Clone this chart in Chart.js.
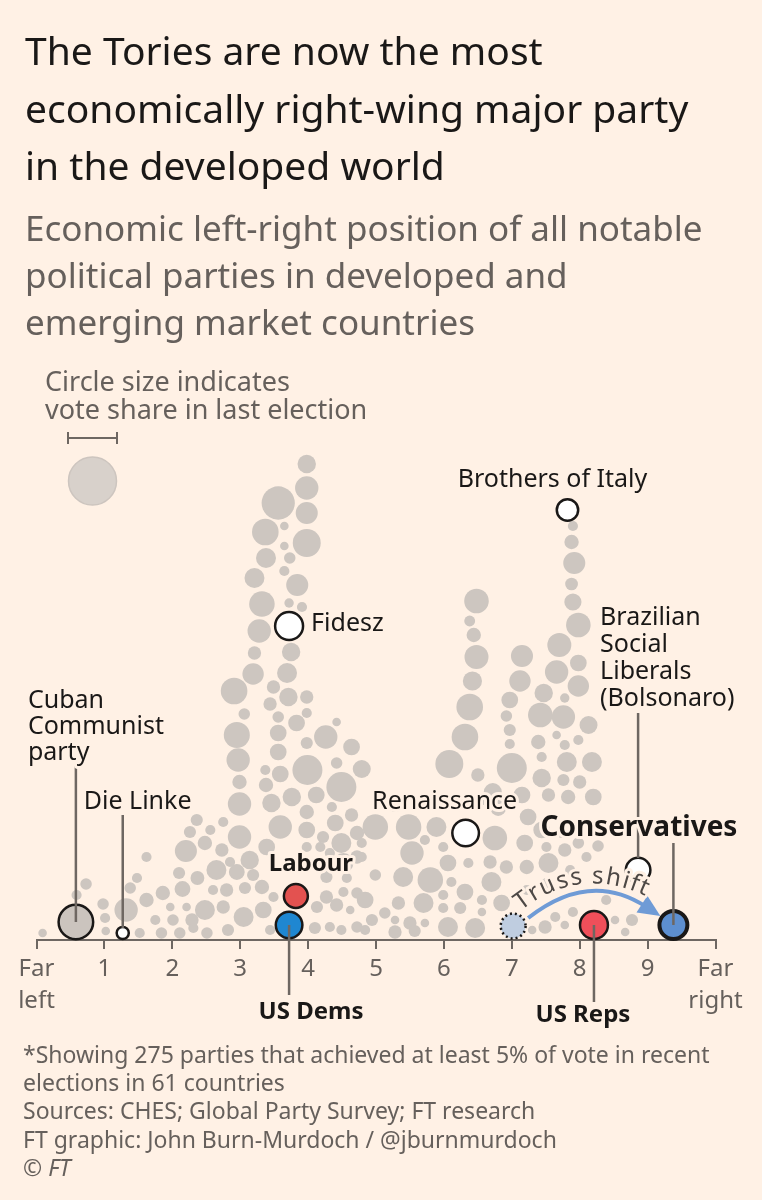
<!DOCTYPE html>
<html>
<head>
<meta charset="utf-8">
<script src="https://cdn.jsdelivr.net/npm/chart.js@4.4.1/dist/chart.umd.min.js"></script>
<style>
  html, body { margin: 0; padding: 0; background: #fff1e5; }
  body { width: 762px; height: 1200px; position: relative; overflow: hidden; font-family: "Noto Sans", sans-serif; }
  #chart { position: absolute; left: 0; top: 0; }
  .txt { position: absolute; left: 25px; white-space: nowrap; z-index: 2; }
  #title { top: 21px; font-size: 39px; line-height: 57.5px; color: #1a1817; }
  #subtitle { top: 204px; font-size: 35px; line-height: 47px; color: #66605c; }
  #sizenote { left: 45px; top: 367px; font-size: 27px; line-height: 28px; color: #66605c; }
  #foot { left: 23px; top: 1040px; font-size: 23px; line-height: 28.2px; color: #66605c; }
</style>
</head>
<body>
<div id="title" class="txt">The Tories are now the most<br>economically right-wing major party<br>in the developed world</div>
<div id="subtitle" class="txt">Economic left-right position of all notable<br>political parties in developed and<br>emerging market countries</div>
<div id="sizenote" class="txt">Circle size indicates<br>vote share in last election</div>
<div id="foot" class="txt">*Showing 275 parties that achieved at least 5% of vote in recent<br>elections in 61 countries<br>Sources: CHES; Global Party Survey; FT research<br>FT graphic: John Burn-Murdoch / @jburnmurdoch<br>© <i>FT</i></div>
<canvas id="chart" width="762" height="1200"></canvas>
<script>
// economic left-right score (0 = far left, 10 = far right)
var score = [
  0.09,0.59,0.73,0.98,1.01,1.02,1.32,1.38,1.48,1.62,
  1.52,1.62,1.75,1.84,1.86,1.97,2.01,2.11,2.15,2.10,
  2.20,2.26,2.36,2.21,2.29,2.37,2.48,2.51,2.56,2.75,
  2.48,2.73,2.85,2.65,2.95,3.19,2.60,2.80,3.07,3.32,
  2.75,3.05,3.34,2.31,2.82,3.44,3.49,3.14,3.39,2.91,
  3.06,2.95,2.97,2.99,2.99,2.99,3.21,3.32,3.28,3.21,
  3.19,3.37,3.38,3.56,3.98,3.98,3.98,3.65,3.98,3.65,
  3.73,3.65,3.84,3.72,3.91,3.75,3.69,3.49,3.71,3.98,
  3.44,3.56,3.83,3.98,3.56,3.98,3.56,3.37,3.59,3.99,
  4.26,4.42,4.64,4.42,4.49,3.38,3.76,3.46,4.12,3.98,
  4.35,4.64,3.59,3.98,4.22,4.40,4.49,4.72,3.98,4.18,
  4.32,4.52,4.72,4.27,4.57,4.27,4.52,4.72,4.13,4.42,
  4.62,4.10,4.32,4.49,4.72,4.79,4.99,5.48,5.89,5.72,
  4.79,5.53,5.99,6.06,6.36,6.68,6.92,4.79,4.99,5.40,
  5.80,6.11,6.31,6.70,4.84,5.33,5.70,5.99,5.99,6.24,
  6.56,6.85,4.94,5.13,5.28,5.50,5.72,4.84,5.28,5.57,
  6.06,6.46,6.56,6.75,5.72,5.94,6.24,6.53,6.80,5.28,
  6.48,6.38,6.44,6.48,6.42,6.38,6.31,6.08,6.50,6.97,
  6.92,6.97,6.97,7.00,7.15,7.12,6.72,7.15,7.47,7.78,
  7.70,7.66,7.98,7.98,7.90,7.88,7.92,7.88,7.90,7.98,
  7.42,7.76,8.13,7.66,7.39,7.78,7.98,7.44,7.81,8.18,
  7.44,7.76,8.00,7.54,7.83,8.20,7.24,7.44,7.73,7.98,
  7.19,7.51,7.78,8.10,7.22,7.54,7.86,7.22,7.51,7.64,
  7.49,7.78,8.52,8.77,8.67,8.27,7.30,7.90,8.39
];
// height of each circle in the swarm
var lift = [
  7,45,56,36,22,9,30,52,62,83,
  7,40,20,7,47,33,20,7,51,67,
  89,108,120,33,20,62,30,7,110,118,
  97,90,78,70,68,65,50,50,52,53,
  33,23,30,12,10,10,43,80,93,249,
  226,205,180,158,136,103,362,336,309,287,
  266,408,382,437,476,452,427,414,397,394,
  382,369,355,337,333,288,267,253,243,243,
  236,223,217,227,207,197,188,170,166,170,
  203,218,193,177,153,155,143,137,145,128,
  133,125,113,110,103,117,97,107,93,93,
  87,77,83,63,62,43,48,47,33,35,
  30,12,13,10,13,171,113,113,113,100,
  97,87,93,77,77,78,73,83,65,63,
  60,58,48,58,40,37,37,45,32,32,
  40,37,20,27,20,17,17,10,8,9,
  13,12,28,102,137,140,137,140,132,135,
  339,319,305,283,259,233,203,176,165,240,
  224,210,196,172,284,259,148,145,247,242,
  295,268,277,254,414,398,377,356,338,315,
  225,223,215,205,198,195,200,183,178,178,
  162,160,158,145,143,143,123,110,107,97,
  97,93,90,83,73,77,70,50,57,23,
  13,15,20,20,8,94,10,28,40
];
// vote share in last election (%)
var share = [
  5,7,9,9,7,5,37,9,7,7,
  7,14,7,9,14,5,9,9,17,10,
  33,10,10,5,12,13,27,9,7,7,
  14,12,7,27,17,10,7,12,10,14,
  12,27,19,7,10,7,7,23,19,48,
  9,46,37,14,37,37,27,44,37,12,
  31,48,27,75,23,37,33,5,53,5,
  9,7,33,6,7,23,27,12,23,12,
  12,9,19,7,19,10,19,7,19,61,
  37,5,19,9,61,14,23,23,19,14,
  7,12,37,19,10,19,27,14,7,7,
  7,27,12,10,7,12,7,9,10,12,
  5,10,7,7,9,22,44,44,27,7,
  7,37,7,19,7,12,12,7,9,27,
  44,7,19,27,19,12,27,7,7,10,
  7,19,10,9,5,12,5,7,12,10,
  27,27,5,41,13,7,13,10,17,13,
  41,8,14,39,25,48,48,53,12,19,
  9,10,7,61,33,31,22,19,23,6,
  39,37,19,31,7,14,33,11,20,41,
  41,37,22,5,14,7,7,7,27,27,
  23,10,12,12,14,19,19,19,7,9,
  19,7,12,7,14,27,7,7,7,7,
  12,5,5,10,5,9,5,7,7
];

// named parties
var partyNames = ['Cuban\nCommunist\nparty', 'Die Linke', 'Fidesz', 'Labour', 'US Dems', 'Renaissance',
  'Brothers of Italy', 'Brazilian\nSocial\nLiberals\n(Bolsonaro)', 'US Reps', 'Conservatives', 'Truss'];
var partyScore = [0.58, 1.27, 3.72, 3.82, 3.72, 6.32, 7.82, 8.86, 8.21, 9.38, 7.02];
var partyLift  = [18, 7, 314, 44, 15, 107, 430, 70, 15, 15, 14];
var partyShare = [81, 10, 53, 39, 48, 48, 31, 41, 53, 53, 42];
var partyFill  = ['#cbc4be', '#ffffff', '#ffffff', '#e35250', '#1f87d1', '#ffffff', '#ffffff', '#ffffff', '#ef4f5a', '#5d8fd0', '#bfcde0'];

var tickNames = ['Far left', '1', '2', '3', '4', '5', '6', '7', '8', '9', 'Far right'];

var BG = '#fff1e5', LINE = '#6e6762', INK = '#1a1817';
function rad(s) { return 1.92 * Math.sqrt(s); }

var swarm = score.map(function (v, i) { return { x: v, y: lift[i], r: rad(share[i]) }; });
var named = partyScore.map(function (v, i) { return { x: v, y: partyLift[i], r: rad(partyShare[i]) }; });

// label placement relative to each named circle
var labelSpec = [
  { dx: -48, dy: -221, align: 'left', lh: 26, lead: [-156, 0] },
  { dx: -39, dy: -131, align: 'left', lead: [-118, -5] },
  { dx: 22, dy: -2, align: 'left' },
  { dx: 15, dy: -32, align: 'center', bold: true, size: 24 },
  { dx: 22, dy: 87, align: 'center', bold: true, size: 24, lead: [0, 70] },
  { dx: -21, dy: -31, align: 'center' },
  { dx: -15, dy: -30, align: 'center' },
  { dx: -38, dy: -252, align: 'left', lh: 27, lead: [-157, -12] },
  { dx: -11, dy: 90, align: 'center', bold: true, size: 24, lead: [0, 77] },
  { dx: -133, dy: -97, align: 'left', bold: true, size: 28, lead: [-82, 0] },
  null
];

function haloText(ctx, s, x, y) {
  ctx.lineJoin = 'round';
  ctx.lineWidth = 6;
  ctx.strokeStyle = BG;
  ctx.strokeText(s, x, y);
  ctx.fillText(s, x, y);
}

var annotate = {
  id: 'annotate',
  beforeDatasetsDraw: function (chart) {
    var ctx = chart.ctx;
    // size legend
    ctx.save();
    ctx.strokeStyle = LINE;
    ctx.lineWidth = 2;
    ctx.beginPath();
    ctx.moveTo(68, 438); ctx.lineTo(117, 438);
    ctx.moveTo(68, 432); ctx.lineTo(68, 444);
    ctx.moveTo(117, 432); ctx.lineTo(117, 444);
    ctx.stroke();
    ctx.beginPath();
    ctx.arc(92.5, 481, 24, 0, Math.PI * 2);
    ctx.fillStyle = '#d8d1cb';
    ctx.fill();
    ctx.strokeStyle = '#cdc5bf';
    ctx.lineWidth = 1.5;
    ctx.stroke();
    ctx.restore();
  },
  afterDatasetsDraw: function (chart) {
    var ctx = chart.ctx;
    var xs = chart.scales.x, ys = chart.scales.y;
    var pts = partyScore.map(function (v, i) {
      return { x: xs.getPixelForValue(v), y: ys.getPixelForValue(partyLift[i]), r: rad(partyShare[i]) };
    });
    ctx.save();

    // dotted ring for the pre-Truss position
    var t = pts[10];
    ctx.beginPath();
    ctx.setLineDash([2, 3]);
    ctx.lineWidth = 2.5;
    ctx.strokeStyle = INK;
    ctx.arc(t.x, t.y, t.r, 0, Math.PI * 2);
    ctx.stroke();
    ctx.setLineDash([]);

    // arrow from the old position to the new one
    var c = pts[9];
    var p0 = { x: t.x + 15, y: t.y - 8 }, p2 = { x: c.x - 13, y: c.y - 9 };
    var p1 = { x: (p0.x + p2.x) / 2 - 5, y: p0.y - 48 };
    var ang = Math.atan2(p2.y - p1.y, p2.x - p1.x);
    var headLen = 22;
    var base = { x: p2.x - Math.cos(ang) * headLen * 0.8, y: p2.y - Math.sin(ang) * headLen * 0.8 };
    ctx.strokeStyle = '#6f9bd6';
    ctx.fillStyle = '#6f9bd6';
    ctx.lineWidth = 4;
    ctx.beginPath();
    ctx.moveTo(p0.x, p0.y);
    ctx.quadraticCurveTo(p1.x, p1.y, base.x, base.y);
    ctx.stroke();
    ctx.beginPath();
    ctx.moveTo(p2.x, p2.y);
    ctx.lineTo(p2.x - Math.cos(ang) * headLen - Math.sin(ang) * 10, p2.y - Math.sin(ang) * headLen + Math.cos(ang) * 10);
    ctx.lineTo(p2.x - Math.cos(ang) * headLen + Math.sin(ang) * 10, p2.y - Math.sin(ang) * headLen - Math.cos(ang) * 10);
    ctx.closePath();
    ctx.fill();

    // "Truss shift" along the curve
    var samples = [], total = 0, prev = null;
    for (var k = 0; k <= 200; k++) {
      var u = k / 200;
      var px = (1 - u) * (1 - u) * p0.x + 2 * u * (1 - u) * p1.x + u * u * p2.x;
      var py = (1 - u) * (1 - u) * p0.y + 2 * u * (1 - u) * p1.y + u * u * p2.y;
      var dx = 2 * (1 - u) * (p1.x - p0.x) + 2 * u * (p2.x - p1.x);
      var dy = 2 * (1 - u) * (p1.y - p0.y) + 2 * u * (p2.y - p1.y);
      if (prev) total += Math.hypot(px - prev.x, py - prev.y);
      samples.push({ x: px, y: py, a: Math.atan2(dy, dx), s: total });
      prev = { x: px, y: py };
    }
    ctx.font = '24px "Noto Sans", sans-serif';
    ctx.textAlign = 'center';
    ctx.textBaseline = 'middle';
    ctx.fillStyle = '#4d4845';
    var word = 'Truss shift', gap = 0.5;
    var widths = word.split('').map(function (ch) { return ctx.measureText(ch).width + gap; });
    var wordLen = widths.reduce(function (a, b) { return a + b; }, 0);
    var pos = total / 2 - wordLen / 2 - 12;
    var glyphs = [];
    word.split('').forEach(function (ch, i) {
      var sMid = pos + widths[i] / 2;
      pos += widths[i];
      var smp = samples[0];
      for (var j = 0; j < samples.length; j++) { if (samples[j].s >= sMid) { smp = samples[j]; break; } }
      var off = 17;
      glyphs.push({ ch: ch, x: smp.x + Math.sin(smp.a) * off, y: smp.y - Math.cos(smp.a) * off, a: smp.a });
    });
    [true, false].forEach(function (halo) {
      glyphs.forEach(function (g) {
        ctx.save();
        ctx.translate(g.x, g.y);
        ctx.rotate(g.a);
        if (halo) { ctx.lineWidth = 6; ctx.lineJoin = 'round'; ctx.strokeStyle = BG; ctx.strokeText(g.ch, 0, 0); }
        else ctx.fillText(g.ch, 0, 0);
        ctx.restore();
      });
    });

    // leader lines
    ctx.strokeStyle = LINE;
    ctx.lineWidth = 2.5;
    labelSpec.forEach(function (sp, i) {
      if (!sp || !sp.lead) return;
      var p = pts[i];
      ctx.beginPath();
      ctx.moveTo(p.x, p.y + sp.lead[0]);
      ctx.lineTo(p.x, p.y + sp.lead[1]);
      ctx.stroke();
    });

    // party labels
    ctx.textBaseline = 'middle';
    ctx.fillStyle = INK;
    labelSpec.forEach(function (sp, i) {
      if (!sp) return;
      var p = pts[i];
      ctx.font = (sp.bold ? 'bold ' : '') + (sp.size || 25) + 'px "Noto Sans", sans-serif';
      ctx.textAlign = sp.align;
      partyNames[i].split('\n').forEach(function (line, j) {
        haloText(ctx, line, p.x + sp.dx, p.y + sp.dy + j * (sp.lh || 26));
      });
    });
    ctx.restore();
  }
};

new Chart(document.getElementById('chart'), {
  type: 'bubble',
  data: {
    datasets: [
      {
        label: 'Named parties',
        data: named,
        order: 1,
        clip: false,
        backgroundColor: partyFill,
        borderColor: partyFill.map(function (c, i) { return i === 10 ? 'rgba(0,0,0,0)' : INK; }),
        borderWidth: partyNames.map(function (n, i) { return i === 9 ? 4 : 2.5; })
      },
      {
        label: 'All parties',
        data: swarm,
        order: 2,
        clip: false,
        backgroundColor: '#cdc6c0',
        borderWidth: 0
      }
    ]
  },
  options: {
    responsive: false,
    animation: false,
    events: [],
    layout: { padding: { left: 36.5, right: 46.5, top: 440, bottom: 170 } },
    plugins: { legend: { display: false }, tooltip: { enabled: false } },
    scales: {
      x: {
        type: 'linear',
        min: 0, max: 10,
        afterFit: function (s) { s.height = 90; },
        border: { display: true, color: LINE, width: 2 },
        grid: { display: true, drawOnChartArea: false, drawTicks: true, tickLength: 9, color: LINE, lineWidth: 2 },
        ticks: {
          stepSize: 1,
          padding: 5,
          color: '#66605c',
          font: { family: '"Noto Sans", sans-serif', size: 24, lineHeight: 1.3 },
          maxRotation: 0,
          autoSkip: false,
          callback: function (v) { var s = tickNames[v]; return s.indexOf(' ') > 0 ? s.split(' ') : s; }
        }
      },
      y: { display: false, min: 0, max: 500 }
    }
  },
  plugins: [annotate]
});
</script>
</body>
</html>
